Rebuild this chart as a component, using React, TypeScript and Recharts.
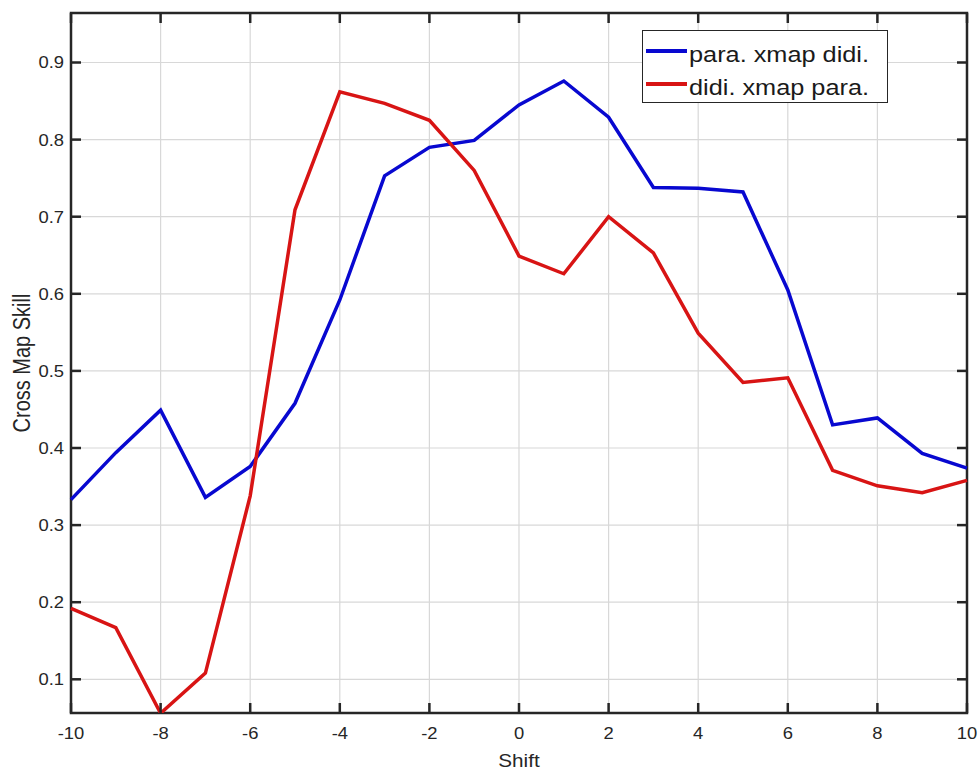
import React from "react";
import { CartesianGrid, Label, Line, LineChart, ReferenceArea, ReferenceLine, XAxis, YAxis } from "recharts";

const shifts = [-10, -9, -8, -7, -6, -5, -4, -3, -2, -1, 0, 1, 2, 3, 4, 5, 6, 7, 8, 9, 10];
const paraXmapDidi = [0.333, 0.394, 0.449, 0.336, 0.376, 0.458, 0.592, 0.753, 0.79, 0.799, 0.845, 0.876, 0.829, 0.738, 0.737, 0.732, 0.605, 0.43, 0.439, 0.393, 0.374];
const didiXmapPara = [0.192, 0.167, 0.056, 0.108, 0.338, 0.709, 0.862, 0.847, 0.825, 0.76, 0.649, 0.626, 0.7, 0.653, 0.549, 0.485, 0.491, 0.371, 0.351, 0.342, 0.358];
const xTicks = [-10, -8, -6, -4, -2, 0, 2, 4, 6, 8, 10];
const yTicks = [0.1, 0.2, 0.3, 0.4, 0.5, 0.6, 0.7, 0.8, 0.9];
const X_DOMAIN = [-10, 10];
const Y_DOMAIN = [0.0563, 0.9642];

const series = [
  { key: "blue", name: "para. xmap didi.", color: "#0808d0", values: paraXmapDidi },
  { key: "red", name: "didi. xmap para.", color: "#d81414", values: didiXmapPara },
];

const data = shifts.map((s, i) => {
  const row: any = { shift: s };
  series.forEach((sr) => (row[sr.key] = sr.values[i]));
  return row;
});

const FONT = "'Liberation Sans', Arial, sans-serif";
const AX = "#262626";
const SX = 1.15; // the picture is a little stretched sideways
const TICK = 10;
const TW = 2.5;

const BottomTick = ({ x, y, payload }: any) => (
  <g>
    <rect x={x - TW / 2} y={y - TICK} width={TW} height={TICK} fill={AX} />
    <text
      transform={`translate(${x},${y + 26}) scale(${SX},1)`}
      textAnchor="middle"
      fontSize={16}
      fontFamily={FONT}
      fill="#262626"
    >
      {payload.value}
    </text>
  </g>
);

const LeftTick = ({ x, y, payload }: any) => (
  <g>
    <rect x={x} y={y - TW / 2} width={TICK} height={TW} fill={AX} />
    <text
      transform={`translate(${x - 7},${y + 6}) scale(${SX},1)`}
      textAnchor="end"
      fontSize={16}
      fontFamily={FONT}
      fill="#262626"
    >
      {payload.value}
    </text>
  </g>
);

// inward tick marks on the top side
const TopTick = (p: any) => {
  const { x1, y1, y2 } = p;
  const top = Math.min(y1, y2);
  return <rect x={x1 - TW / 2} y={top} width={TW} height={TICK} fill={AX} />;
};

// inward tick marks on the right side
const RightTick = (p: any) => {
  const { x1, x2, y1 } = p;
  const r = Math.max(x1, x2);
  return <rect x={r - TICK} y={y1 - TW / 2} width={TICK} height={TW} fill={AX} />;
};

const YLabel = ({ viewBox }: any) => {
  const cy = viewBox.y + viewBox.height / 2;
  return (
    <text
      transform={`translate(22,${cy}) scale(${SX},1) rotate(-90)`}
      textAnchor="middle"
      dominantBaseline="central"
      fontSize={20}
      fontFamily={FONT}
      fill="#262626"
    >
      Cross Map Skill
    </text>
  );
};

const XLabel = ({ viewBox }: any) => {
  const cx = viewBox.x + viewBox.width / 2;
  return (
    <text
      transform={`translate(${cx},767) scale(${SX},1)`}
      textAnchor="middle"
      fontSize={18}
      fontFamily={FONT}
      fill="#262626"
    >
      Shift
    </text>
  );
};

function LegendBox() {
  return (
    <div
      style={{
        position: "absolute",
        left: 642,
        top: 30,
        width: 244,
        height: 71,
        border: `1.8px solid ${AX}`,
        background: "#fff",
        fontFamily: FONT,
      }}
    >
      {series.map((s, i) => (
        <div key={s.key}>
          <div
            style={{
              position: "absolute",
              left: 3,
              top: 18 + i * 33,
              width: 41,
              height: 3.5,
              background: s.color,
            }}
          />
          <span
            style={{
              position: "absolute",
              left: 46,
              top: 13 + i * 33,
              fontSize: 22,
              lineHeight: "22px",
              whiteSpace: "nowrap",
              color: "#1a1a1a",
              transform: `scaleX(${SX})`,
              transformOrigin: "left",
            }}
          >
            {s.name}
          </span>
        </div>
      ))}
    </div>
  );
}

export default function App() {
  return (
    <div style={{ position: "absolute", left: 0, top: 0, width: 979, height: 770, background: "#fff" }}>
      <LineChart width={979} height={770} data={data} margin={{ top: 13, right: 12, left: 0, bottom: 0 }}>
        <CartesianGrid stroke="#d8d8d8" strokeWidth={1.2} />
        <XAxis
          dataKey="shift"
          type="number"
          domain={X_DOMAIN}
          ticks={xTicks}
          interval={0}
          height={57}
          tickSize={0}
          tickMargin={0}
          tickLine={false}
          axisLine={false}
          tick={BottomTick}
        >
          <Label content={<XLabel />} />
        </XAxis>
        <YAxis
          type="number"
          domain={Y_DOMAIN}
          allowDataOverflow
          ticks={yTicks}
          interval={0}
          width={71}
          tickSize={0}
          tickMargin={0}
          tickLine={false}
          axisLine={false}
          tick={LeftTick}
        >
          <Label content={<YLabel />} />
        </YAxis>
        {xTicks.map((t) => (
          <ReferenceLine key={"vx" + t} x={t} stroke={AX} shape={TopTick} />
        ))}
        {yTicks.map((t) => (
          <ReferenceLine key={"hy" + t} y={t} stroke={AX} shape={RightTick} />
        ))}
        {series.map((s) => (
          <Line
            key={s.key}
            dataKey={s.key}
            name={s.name}
            type="linear"
            stroke={s.color}
            strokeWidth={3.5}
            dot={false}
            activeDot={false}
            isAnimationActive={false}
          />
        ))}
        <ReferenceArea
          x1={X_DOMAIN[0]}
          x2={X_DOMAIN[1]}
          y1={Y_DOMAIN[0]}
          y2={Y_DOMAIN[1]}
          fill="none"
          fillOpacity={0}
          stroke={AX}
          strokeWidth={2.5}
          ifOverflow="visible"
        />
      </LineChart>
      <LegendBox />
    </div>
  );
}
